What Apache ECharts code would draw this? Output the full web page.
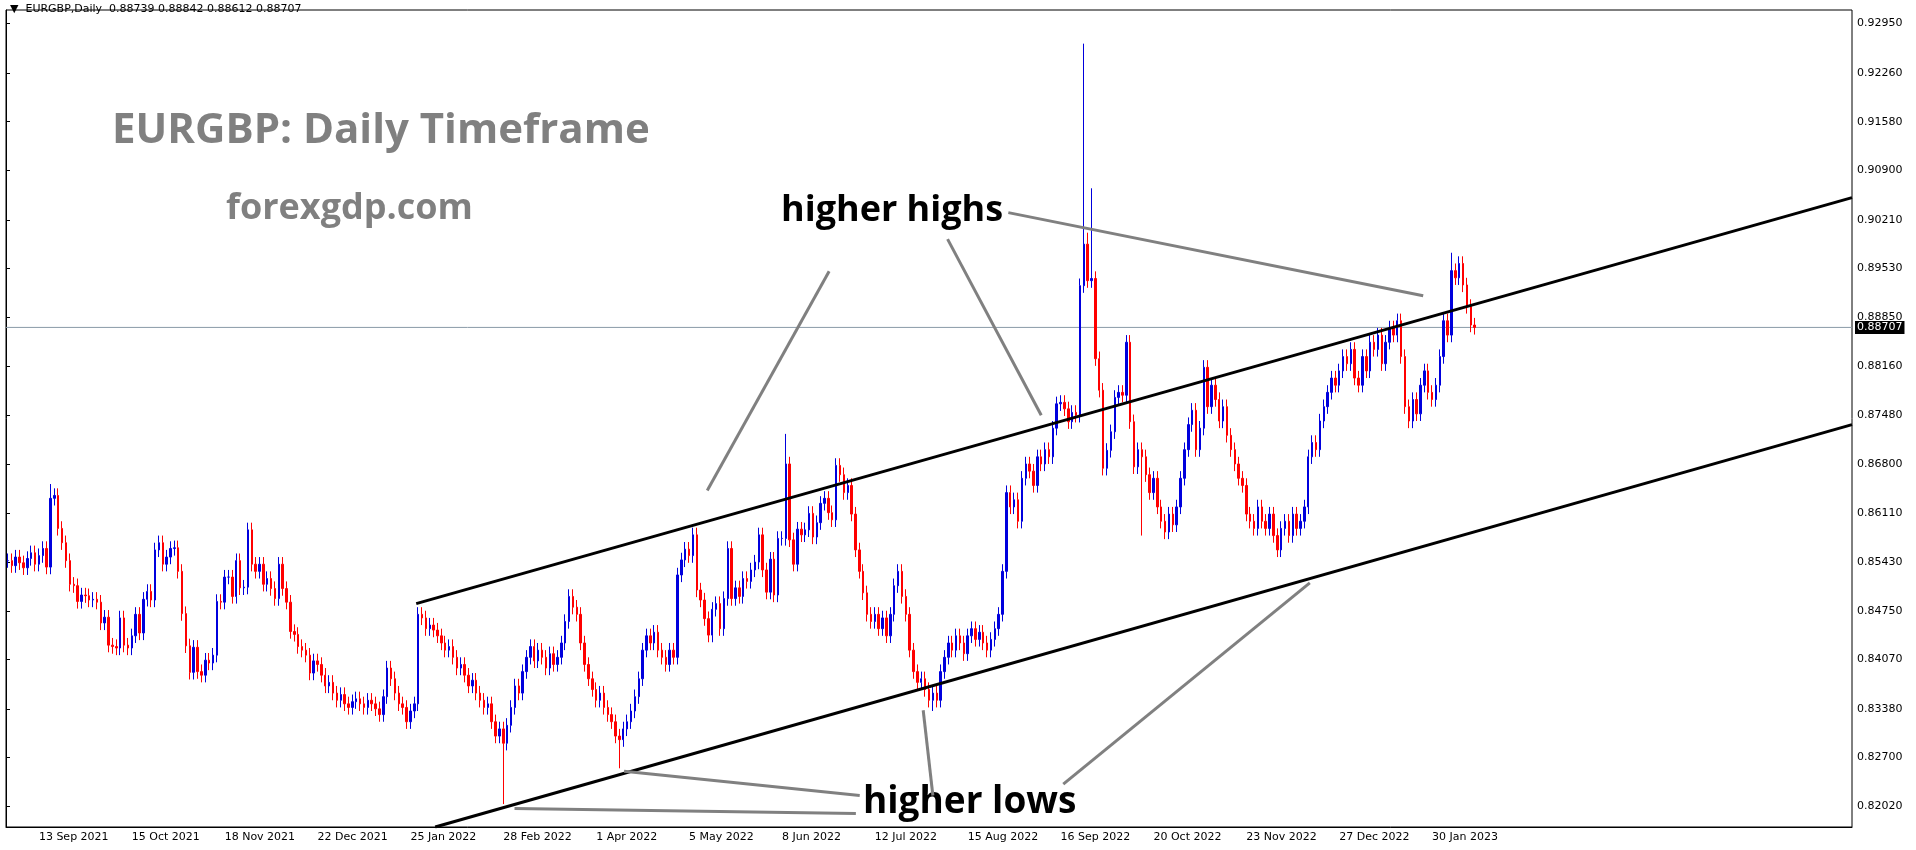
<!DOCTYPE html>
<html><head><meta charset="utf-8">
<script src="https://cdn.jsdelivr.net/npm/echarts@6/dist/echarts.min.js"></script>
<style>html,body{margin:0;padding:0;background:#fff}#c{width:1916px;height:850px}</style>
</head><body><div id="c"></div>
<script>
const closes = [
0.8545,0.8538,0.8550,0.8542,0.8535,0.8548,0.8556,0.8540,
0.8552,0.8562,0.8536,0.8632,0.8636,0.8590,0.8570,0.8545,0.8512,0.8510,0.8488,0.8497,0.8496,0.8490,0.8491,0.8487,
0.8458,0.8466,0.8427,0.8425,0.8423,0.8465,0.8427,0.8423,0.8440,0.8470,0.8444,0.8491,0.8502,0.8490,0.8560,0.8570,
0.8540,0.8550,0.8562,0.8563,0.8530,0.8471,0.8426,0.8389,0.8424,0.8390,0.8385,0.8406,0.8402,0.8413,0.8488,0.8487,
0.8522,0.8522,0.8495,0.8545,0.8507,0.8508,0.8588,0.8540,0.8530,0.8540,0.8512,0.8520,0.8506,0.8492,0.8540,0.8506,
0.8487,0.8446,0.8442,0.8425,0.8420,0.8413,0.8388,0.8405,
0.8400,0.8385,0.8370,0.8375,0.8360,0.8350,0.8358,0.8345,0.8340,0.8348,0.8352,0.8345,0.8340,0.8350,0.8345,0.8338,
0.8330,0.8355,0.8395,0.8380,0.8360,0.8345,0.8340,0.8320,0.8335,0.8345,0.8470,0.8465,0.8450,
0.8455,0.8448,0.8440,0.8430,0.8420,0.8425,0.8410,0.8395,0.8400,0.8385,0.8370,0.8378,0.8360,0.8350,0.8340,0.8345,
0.8320,0.8300,0.8310,0.8290,0.8315,0.8340,0.8370,0.8360,0.8390,0.8410,0.8425,0.8405,0.8420,0.8410,0.8395,0.8415,
0.8400,0.8410,0.8430,0.8460,0.8495,0.8480,0.8470,0.8430,0.8400,0.8380,0.8365,0.8350,0.8360,0.8340,0.8330,0.8320,
0.8300,0.8295,0.8310,0.8320,0.8335,0.8355,0.8380,0.8420,0.8440,0.8430,0.8445,0.8420,0.8410,0.8400,0.8420,0.8410,
0.8525,0.8546,0.8561,0.8552,0.8581,0.8504,0.8490,0.8464,0.8441,0.8477,0.8485,0.8450,0.8492,0.8562,0.8492,0.8507,
0.8495,0.8520,0.8516,0.8532,0.8543,0.8581,0.8532,0.8501,0.8547,0.8497,0.8576,0.8576,0.8680,0.8574,0.8540,0.8589,
0.8581,0.8588,0.8611,0.8578,0.8598,0.8625,0.8632,0.8612,0.8602,0.8678,
0.8665,0.8640,0.8650,0.8610,0.8560,0.8530,0.8500,0.8470,0.8460,0.8470,0.8450,0.8465,0.8440,0.8470,0.8510,0.8530,
0.8495,0.8470,0.8420,0.8390,0.8375,0.8380,0.8365,0.8350,0.8360,0.8350,0.8390,0.8410,0.8430,0.8420,0.8440,0.8430,
0.8415,0.8440,0.8450,0.8435,0.8445,0.8430,0.8420,0.8435,0.8450,0.8470,0.8530,0.8640,0.8620,0.8630,0.8600,0.8660,
0.8680,0.8670,0.8650,0.8690,0.8680,0.8700,0.8690,0.8730,0.8764,0.8766,0.8757,0.8739,0.8752,0.8748,
0.8929,0.8987,0.8936,0.8939,0.8827,0.8783,0.8674,0.8699,0.8725,0.8773,0.8780,0.8776,0.8850,0.8739,0.8676,
0.8700,0.8690,0.8665,0.8640,0.8660,0.8620,0.8600,0.8585,0.8610,0.8595,0.8620,0.8660,0.8700,0.8735,0.8755,0.8700,
0.8730,0.8815,0.8760,0.8790,0.8770,0.8740,0.8760,0.8720,0.8700,0.8680,0.8660,0.8650,0.8610,0.8600,0.8590,0.8620,
0.8600,0.8590,0.8610,0.8580,0.8560,0.8590,0.8600,0.8580,0.8610,0.8590,0.8600,0.8620,0.8690,0.8710,0.8700,0.8740,
0.8760,0.8780,0.8800,0.8790,0.8810,0.8830,0.8820,0.8840,0.8800,0.8790,0.8830,0.8810,0.8850,0.8840,0.8860,0.8820,
0.8850,0.8870,0.8860,0.8880,0.8830,0.8760,0.8740,0.8770,0.8750,0.8790,0.8810,0.8780,0.8770,0.8790,0.8830,0.8880,
0.8860,0.8950,0.8940,0.8960,0.8930,0.8900,0.8874,0.88707
];
const highOverride = [[11,0.8652],[201,0.8722],[278,0.9267],[279,0.9003],[280,0.9065],[373,0.8975],[375,0.8970]];
const lowOverride = [[128,0.8205],[158,0.8255],[239,0.8335],[293,0.8580]];
const yTicks = [0.92950,0.92260,0.91580,0.90900,0.90210,0.89530,0.88850,0.88160,0.87480,0.86800,0.86110,0.85430,0.84750,0.84070,0.83380,0.82700,0.82020];
const tickLabels = ['13 Sep 2021','15 Oct 2021','18 Nov 2021','22 Dec 2021','25 Jan 2022','28 Feb 2022','1 Apr 2022','5 May 2022','8 Jun 2022','12 Jul 2022','15 Aug 2022','16 Sep 2022','20 Oct 2022','23 Nov 2022','27 Dec 2022','30 Jan 2023'];
const lastPrice = 0.88707;
const channels = [[[106,0.8485],[477,0.9052]],[[110.9,0.8173],[477,0.8735]]];
const pointers = [
 [[212.7,0.8949],[181.2,0.8643]],[[243.3,0.8994],[267.5,0.8748]],[[259.0,0.9031],[366.2,0.8915]],
 [[239.5,0.8217],[237.0,0.8336]],[[131.4,0.8199],[219.6,0.8192]],[[159.7,0.8251],[220.6,0.8217]],[[273.2,0.8233],[336.9,0.8514]]
];
const N = 477;
const months=['Jan','Feb','Mar','Apr','May','Jun','Jul','Aug','Sep','Oct','Nov','Dec'];
const cats=[]; {let d=new Date(Date.UTC(2021,8,1)); while(cats.length<N){const w=d.getUTCDay(); if(w!==0&&w!==6) cats.push(d.getUTCDate()+' '+months[d.getUTCMonth()]+' '+d.getUTCFullYear()); d=new Date(d.getTime()+86400000);}}
const hi={},lo={}; highOverride.forEach(a=>hi[a[0]]=a[1]); lowOverride.forEach(a=>lo[a[0]]=a[1]);
const candles = closes.map((c,i)=>{const o=i?closes[i-1]:c; const h=hi[i]!==undefined?hi[i]:Math.max(o,c)+0.0010; const l=lo[i]!==undefined?lo[i]:Math.min(o,c)-0.0010; return [o,c,l,h];});
const showSet=new Set(tickLabels);
const lineSeries=(arr,color,w)=>arr.map(seg=>({type:'line',xAxisIndex:1,data:seg,symbol:'none',silent:true,lineStyle:{color:color,width:w},z:5}));
const chart=echarts.init(document.getElementById('c'));
chart.setOption({
 animation:false,
 grid:{left:6,right:64,top:10,bottom:23,show:true,borderColor:'#000',borderWidth:1},
 xAxis:[{type:'category',data:cats,boundaryGap:true,axisLine:{lineStyle:{color:'#000'}},
   axisTick:{interval:(i,v)=>showSet.has(v),lineStyle:{color:'#000'},length:3},
   axisLabel:{interval:(i,v)=>showSet.has(v),color:'#000',fontSize:11,fontFamily:'DejaVu Sans',align:'left',margin:5}},
  {type:'value',min:0,max:N,show:false}],
 yAxis:{type:'value',position:'right',min:0.8173,max:0.9314,scale:true,splitLine:{show:false},
   axisLine:{show:true,lineStyle:{color:'#000'}},
   axisTick:{show:true,customValues:yTicks,length:4,lineStyle:{color:'#000'}},
   axisLabel:{customValues:yTicks,formatter:v=>v.toFixed(5),color:'#000',fontSize:11,fontFamily:'DejaVu Sans',margin:5}},
 series:[{type:'candlestick',data:candles,barMaxWidth:3,
   itemStyle:{color:'#0000dd',color0:'#ff0000',borderColor:'#0000dd',borderColor0:'#ff0000',borderWidth:1}},
  {type:'line',xAxisIndex:1,data:[[0,lastPrice],[N,lastPrice]],symbol:'none',silent:true,z:1,
   lineStyle:{color:'#8a9aa8',width:1},
   endLabel:{show:true,formatter:()=>lastPrice.toFixed(5),backgroundColor:'#000',color:'#fff',fontSize:11,fontFamily:'DejaVu Sans',padding:[1,2],distance:3}}]
  .concat(lineSeries(channels,'#000',3)).concat(lineSeries(pointers,'#808080',3)),
 graphic:[
  {type:'text',left:10,top:4,style:{text:'▼  EURGBP,Daily  0.88739 0.88842 0.88612 0.88707',fill:'#000',font:'11px DejaVu Sans'}},
  {type:'text',left:112,top:110,style:{text:'EURGBP: Daily Timeframe',fill:'#808080',font:'bold 42px "Open Sans"'}},
  {type:'text',left:226,top:191,style:{text:'forexgdp.com',fill:'#808080',font:'bold 36px "Open Sans"'}},
  {type:'text',left:781,top:193,style:{text:'higher highs',fill:'#000',font:'bold 36px "Open Sans"'}},
  {type:'text',left:863,top:784,style:{text:'higher lows',fill:'#000',font:'bold 37px "Open Sans"'}}
 ]
});
</script></body></html>
